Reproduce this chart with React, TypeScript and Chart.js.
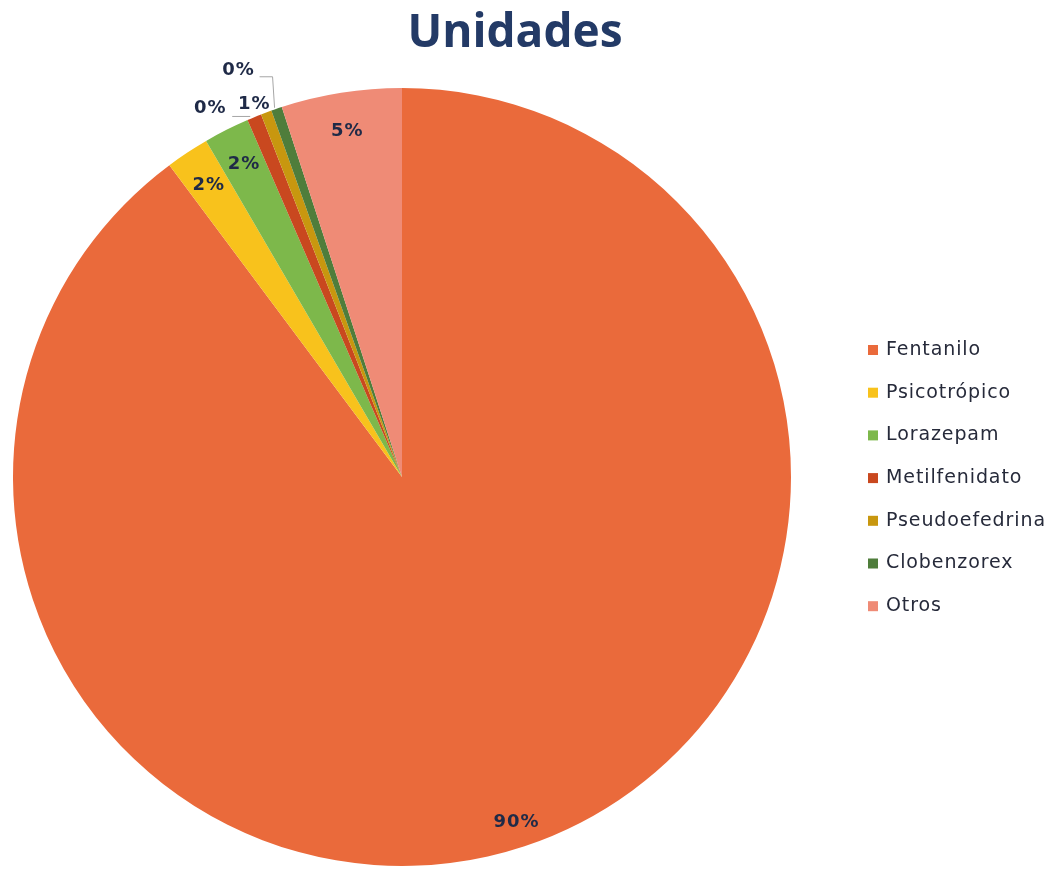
import React, { useEffect, useRef } from "react";
import { Chart, registerables } from "chart.js";

Chart.register(...registerables);

const chartTitle = "Unidades";
const categories = [
  "Fentanilo",
  "Psicotrópico",
  "Lorazepam",
  "Metilfenidato",
  "Pseudoefedrina",
  "Clobenzorex",
  "Otros",
];
const shares = [89.8, 1.8, 1.9, 0.6, 0.45, 0.45, 5.0];
const sliceColors = [
  "#EA6A3B",
  "#F8C21C",
  "#7DB84B",
  "#C9481F",
  "#C8970F",
  "#4F7D3B",
  "#EF8B76",
];

// label placement style (not data): inside labels use radial fraction, outside ones use offsets from the arc's outer midpoint
const labelPlacement: any[] = [
  { mode: "inside", f: 0.935 },
  { mode: "inside", f: 0.9 },
  { mode: "inside", f: 0.9 },
  { mode: "outside", dx: 0, dy: -13, line: [] },
  { mode: "outside", dx: -56, dy: -4, line: [[-34, 4], [-16, 4]] },
  { mode: "outside", dx: -38, dy: -38, line: [[-17, -32], [-4, -32], [-2, -1]] },
  { mode: "inside", f: 0.9 },
];

const LABEL_FONT = "'DejaVu Sans', sans-serif";
const TITLE_FONT = "'Open Sans', sans-serif";
const INK = "#1F2A47";

const overlayPlugin = {
  id: "overlay",
  afterDatasetsDraw(chart: any) {
    const ctx = chart.ctx;
    const meta = chart.getDatasetMeta(0);
    const data = chart.data.datasets[0].data as number[];
    const total = data.reduce((a, b) => a + b, 0);
    ctx.save();
    ctx.font = `bold 18px ${LABEL_FONT}`;
    (ctx as any).letterSpacing = "1px";
    ctx.fillStyle = INK;
    ctx.textAlign = "center";
    ctx.textBaseline = "middle";
    meta.data.forEach((arc: any, i: number) => {
      const { x, y, startAngle, endAngle, outerRadius } = arc.getProps(
        ["x", "y", "startAngle", "endAngle", "outerRadius"],
        true
      );
      const mid = (startAngle + endAngle) / 2;
      const p = labelPlacement[i];
      const txt = Math.round((data[i] / total) * 100) + "%";
      if (p.mode === "inside") {
        ctx.fillText(txt, x + Math.cos(mid) * outerRadius * p.f, y + Math.sin(mid) * outerRadius * p.f);
      } else {
        const ax = x + Math.cos(mid) * outerRadius;
        const ay = y + Math.sin(mid) * outerRadius;
        ctx.fillText(txt, ax + p.dx, ay + p.dy);
        if (p.line.length) {
          ctx.strokeStyle = "#A6A6A6";
          ctx.lineWidth = 1;
          ctx.beginPath();
          p.line.forEach((pt: number[], k: number) => {
            if (k === 0) ctx.moveTo(ax + pt[0], ay + pt[1]);
            else ctx.lineTo(ax + pt[0], ay + pt[1]);
          });
          ctx.stroke();
        }
      }
    });
    ctx.restore();
  },
  afterDraw(chart: any) {
    const ctx = chart.ctx;
    ctx.save();
    // title
    ctx.font = `bold 46px ${TITLE_FONT}`;
    (ctx as any).letterSpacing = "0px";
    ctx.fillStyle = "#233A66";
    ctx.textAlign = "center";
    ctx.textBaseline = "alphabetic";
    ctx.fillText(chartTitle, 515, 47);
    // legend
    const bg = chart.data.datasets[0].backgroundColor as string[];
    ctx.font = `19px ${LABEL_FONT}`;
    (ctx as any).letterSpacing = "0.9px";
    ctx.textAlign = "left";
    ctx.textBaseline = "middle";
    chart.data.labels.forEach((lab: string, i: number) => {
      const cy = 350 + i * 42.7;
      ctx.fillStyle = bg[i];
      ctx.fillRect(868, cy - 5, 10, 10);
      ctx.fillStyle = "#262A3A";
      ctx.fillText(lab, 886, cy);
    });
    ctx.restore();
  },
};

export default function App() {
  const ref = useRef<HTMLCanvasElement>(null);
  useEffect(() => {
    if (!ref.current) return;
    const chart = new Chart(ref.current, {
      type: "pie",
      data: {
        labels: categories,
        datasets: [
          {
            data: shares,
            backgroundColor: sliceColors,
            borderWidth: 0,
          },
        ],
      },
      options: {
        animation: false,
        responsive: true,
        maintainAspectRatio: false,
        layout: { padding: { left: 13, right: 272, top: 87, bottom: 4 } },
        plugins: {
          legend: { display: false },
          title: { display: false },
          tooltip: { enabled: false },
        },
      },
      plugins: [overlayPlugin],
    });
    return () => chart.destroy();
  }, []);
  return (
    <div style={{ position: "absolute", left: 0, top: 0, width: 1063, height: 871, background: "#fff" }}>
      <canvas ref={ref} />
    </div>
  );
}
